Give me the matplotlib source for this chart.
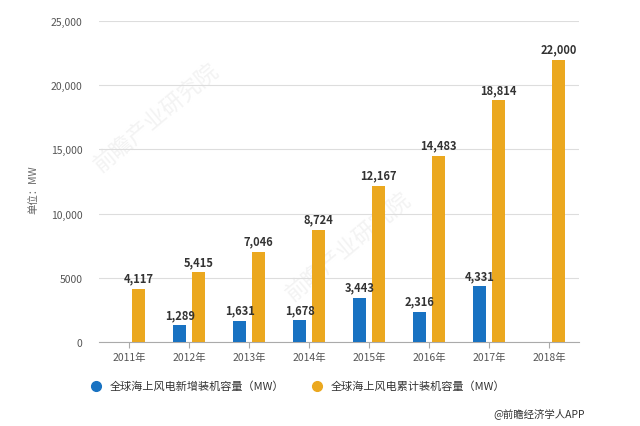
import numpy as np
import matplotlib.pyplot as plt

plt.rcParams['font.family'] = ['Noto Sans CJK SC', 'DejaVu Sans']

years = ['2011年', '2012年', '2013年', '2014年', '2015年', '2016年', '2017年', '2018年']
new_cap = [None, 1289, 1631, 1678, 3443, 2316, 4331, None]
total_cap = [4117, 5415, 7046, 8724, 12167, 14483, 18814, 22000]
yticks = [0, 5000, 10000, 15000, 20000, 25000]
ytick_labels = ['0', '5000', '10,000', '15,000', '20,000', '25,000']

blue = '#1872C2'
orange = '#EBA81F'

fig = plt.figure(figsize=(6.4, 4.27), dpi=100)
ax = fig.add_axes([99 / 640, 1 - 343 / 427, 480 / 640, 321 / 427])

x = np.arange(len(years))
w = 0.21
off = 0.155

ax.bar(x + off, total_cap, w, color=orange, zorder=3)
for i, v in enumerate(total_cap):
    ax.text(x[i] + off, v + 350, f'{v:,}', ha='center', va='bottom',
            fontsize=8, fontweight='bold', color='#333333', zorder=5)

for i, v in enumerate(new_cap):
    if v is None:
        continue
    ax.bar(x[i] - off, v, w, color=blue, zorder=3)
    ax.text(x[i] - off, v + 350, f'{v:,}', ha='center', va='bottom',
            fontsize=8, fontweight='bold', color='#333333', zorder=5)

ax.set_xlim(-0.5, len(years) - 0.5)
ax.set_ylim(0, 25000)
ax.set_xticks(x)
ax.set_xticklabels(years, fontsize=7.5, color='#555555')
ax.set_yticks(yticks)
ax.set_yticklabels(ytick_labels, fontsize=7.5, color='#555555')
ax.tick_params(axis='y', length=0, pad=12)
ax.tick_params(axis='x', length=4, color='#aaaaaa', pad=3)
ax.grid(axis='y', color='#dddddd', linewidth=0.8, zorder=0)
for s in ['top', 'right', 'left']:
    ax.spines[s].set_visible(False)
ax.spines['bottom'].set_color('#aaaaaa')

# faint watermarks behind the bars
ax.text(0.12, 0.7, '前瞻产业研究院', rotation=40, ha='center', va='center',
        fontsize=16, color='#f3f3f3', transform=ax.transAxes, zorder=1)
ax.text(0.52, 0.3, '前瞻产业研究院', rotation=40, ha='center', va='center',
        fontsize=16, color='#f3f3f3', transform=ax.transAxes, zorder=1)

fig.text(33 / 640, 1 - 190 / 427, '单位：MW', rotation=90, ha='center', va='center',
         fontsize=7.5, color='#666666')

# legend
fig.add_artist(plt.Line2D([96 / 640], [1 - 387 / 427], marker='o', markersize=7,
                          color=blue, linestyle='none'))
fig.text(110 / 640, 1 - 387 / 427, '全球海上风电新增装机容量（MW）', ha='left', va='center',
         fontsize=8, color='#333333')
fig.add_artist(plt.Line2D([317 / 640], [1 - 387 / 427], marker='o', markersize=7,
                          color=orange, linestyle='none'))
fig.text(331 / 640, 1 - 387 / 427, '全球海上风电累计装机容量（MW）', ha='left', va='center',
         fontsize=8, color='#333333')

fig.text(585 / 640, 1 - 414 / 427, '@前瞻经济学人APP', ha='right', va='center',
         fontsize=7.5, color='#333333')

fig.savefig('out.png', dpi=100)
